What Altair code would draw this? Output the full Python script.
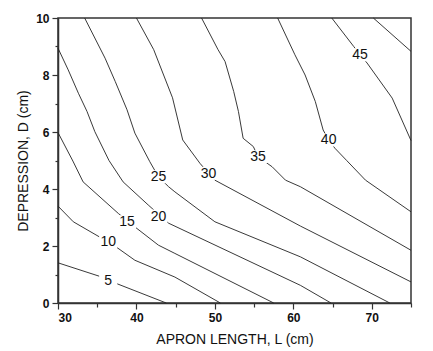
import altair as alt
import pandas as pd

# Contour levels: apron length L (cm) and depression D (cm)
c5_L = [30.0, 35.6, 37.3, 43.8]
c5_D = [1.41, 0.91, 0.70, 0.0]

c10_L = [30.0, 31.95, 35.4, 37.5, 39.8, 44.9, 50.7]
c10_D = [3.40, 2.85, 2.30, 1.95, 1.50, 0.91, 0.0]

c15_L = [30.0, 31.9, 33.2, 37.7, 39.8, 42.8, 44.9, 57.5]
c15_D = [5.98, 4.98, 4.25, 3.14, 2.67, 2.03, 1.74, 0.0]

c20_L = [30.0, 31.3, 32.6, 33.7, 34.7, 36.5, 38.3, 41.5, 44.1, 60.9, 64.8]
c20_D = [8.94, 8.18, 7.36, 6.72, 6.01, 5.00, 4.25, 3.44, 2.80, 0.62, 0.0]

c25_L = [33.4, 36.0, 37.3, 38.8, 39.8, 41.7, 42.8, 44.1, 44.9, 50.0, 60.9, 72.3]
c25_D = [10.0, 8.59, 7.77, 6.78, 5.96, 4.96, 4.43, 4.08, 3.90, 2.85, 1.62, 0.0]

c30_L = [40.0, 42.2, 44.6, 45.9, 48.1, 49.2, 50.0, 60.9, 75.0]
c30_D = [10.0, 8.89, 7.20, 5.72, 4.90, 4.55, 4.31, 2.70, 0.74]

c35_L = [48.3, 50.4, 51.3, 52.4, 53.0, 53.6, 54.9, 55.5, 57.3, 59.0, 60.9, 75.0]
c35_D = [10.0, 8.89, 8.47, 7.42, 6.72, 5.78, 5.49, 5.13, 4.78, 4.31, 4.08, 1.85]

c40_L = [58.0, 60.2, 61.5, 62.8, 63.8, 64.5, 65.3, 66.8, 69.2, 75.0]
c40_D = [10.0, 8.71, 8.00, 7.07, 6.07, 5.72, 5.43, 5.00, 4.31, 3.20]

c45_L = [64.9, 67.7, 68.5, 69.4, 72.6, 75.0]
c45_D = [10.0, 9.00, 8.71, 8.42, 7.19, 5.70]

c50_L = [70.2, 75.0]
c50_D = [10.0, 8.83]

# Contour labels
label_text = ["5", "10", "15", "20", "25", "30", "35", "40", "45"]
label_L = [36.4, 36.4, 38.8, 42.8, 42.8, 49.2, 55.5, 64.5, 68.5]
label_D = [0.80, 2.15, 2.85, 3.05, 4.43, 4.55, 5.13, 5.72, 8.71]

# Axis ticks
x_major = [30, 40, 50, 60, 70]
x_minor = [35, 45, 55, 65, 75]
y_major = [0, 2, 4, 6, 8, 10]
y_minor = [1, 3, 5, 7, 9]

levels = [
    (5, c5_L, c5_D), (10, c10_L, c10_D), (15, c15_L, c15_D), (20, c20_L, c20_D),
    (25, c25_L, c25_D), (30, c30_L, c30_D), (35, c35_L, c35_D), (40, c40_L, c40_D),
    (45, c45_L, c45_D), (50, c50_L, c50_D),
]
rows = []
for lev, Ls, Ds in levels:
    for i, (l, d) in enumerate(zip(Ls, Ds)):
        rows.append({"level": lev, "order": i, "L": l, "D": d})
lines_df = pd.DataFrame(rows)
labels_df = pd.DataFrame({"text": label_text, "L": label_L, "D": label_D})

FONT = "Liberation Sans"
xscale = alt.Scale(domain=[30, 75], nice=False, zero=False)
yscale = alt.Scale(domain=[0, 10], nice=False, zero=False)

x_axis = alt.Axis(
    values=x_major, grid=False, tickSize=6, labelPadding=3, labelFont=FONT,
    labelFontSize=12, labelFontWeight="bold", labelColor="#111", tickColor="#333",
    domainColor="#333", domainWidth=1.5, tickWidth=1.2, orient="bottom",
    title="APRON LENGTH, L (cm)", titleFont=FONT, titleFontSize=14,
    titleFontWeight="normal", titleColor="#111", titleY=40, titleBaseline="alphabetic",
)
y_axis = alt.Axis(
    values=y_major, grid=False, tickSize=6, labelPadding=3, labelFont=FONT,
    labelFontSize=12, labelFontWeight="bold", labelColor="#111", tickColor="#333",
    domainColor="#333", domainWidth=1.5, tickWidth=1.2, orient="left",
    title="DEPRESSION, D (cm)", titleFont=FONT, titleFontSize=14,
    titleFontWeight="normal", titleColor="#111", titleX=-31, titleY=142.5,
    titleAngle=270, titleAlign="center", titleBaseline="alphabetic",
)

lines = alt.Chart(lines_df).mark_line(color="#222", strokeWidth=0.9).encode(
    x=alt.X("L:Q", scale=xscale, axis=x_axis),
    y=alt.Y("D:Q", scale=yscale, axis=y_axis),
    detail="level:N",
    order="order:Q",
)

boxes = alt.Chart(labels_df).mark_point(
    shape="M-1,-0.72L1,-0.72L1,0.72L-1,0.72Z", filled=True, color="white",
    opacity=1, size=330, strokeWidth=0,
).encode(
    x=alt.X("L:Q", scale=xscale, axis=None),
    y=alt.Y("D:Q", scale=yscale, axis=None),
)

texts = alt.Chart(labels_df).mark_text(
    font=FONT, fontSize=14, color="#111", align="center", baseline="middle", dy=0.5,
).encode(
    x=alt.X("L:Q", scale=xscale, axis=None),
    y=alt.Y("D:Q", scale=yscale, axis=None),
    text="text:N",
)

minor = alt.Chart(labels_df).mark_point(opacity=0).encode(
    x=alt.X("L:Q", scale=xscale, axis=alt.Axis(
        values=x_minor, orient="bottom", labels=False, domain=False, grid=False,
        tickSize=4, tickColor="#333", tickWidth=1.2, title="")),
    y=alt.Y("D:Q", scale=yscale, axis=alt.Axis(
        values=y_minor, orient="left", labels=False, domain=False, grid=False,
        tickSize=3, tickColor="#333", tickWidth=1.2, title="")),
)

chart = alt.layer(lines, boxes, texts, minor).resolve_axis(
    x="independent", y="independent"
).resolve_scale(x="shared", y="shared").properties(
    width=353, height=285,
    autosize=alt.AutoSizeParams(type="none"),
    padding={"left": 58, "top": 18, "right": 22, "bottom": 48},
    background="white",
).configure_view(stroke="#333", strokeWidth=1.5)

chart.save("out.html", embed_options={"renderer": "svg", "actions": False})
